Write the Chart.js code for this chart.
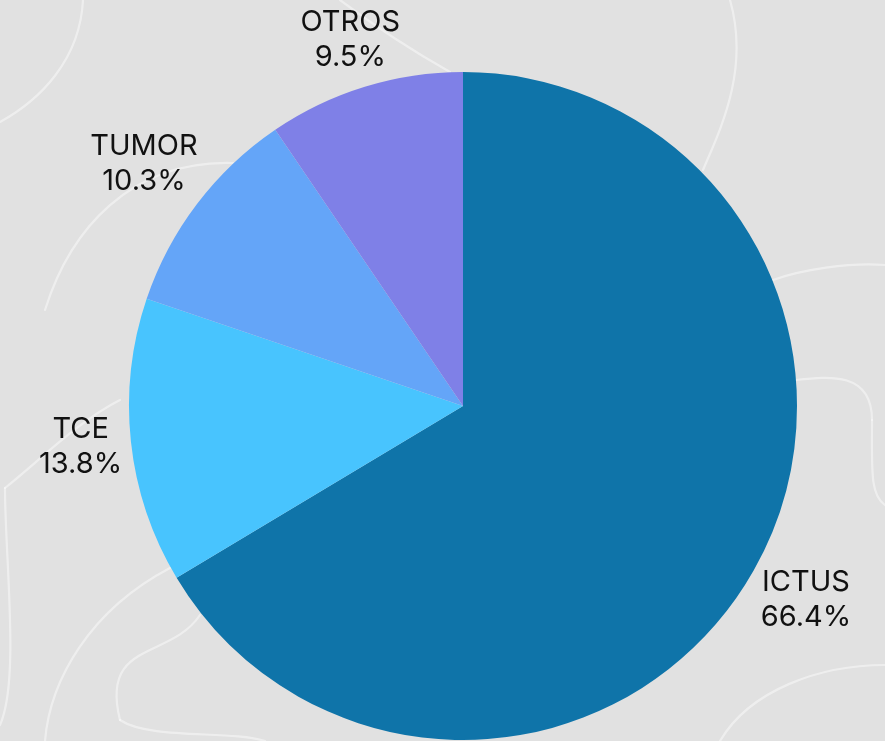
<!DOCTYPE html>
<html>
<head>
<meta charset="utf-8">
<script src="https://cdn.jsdelivr.net/npm/chart.js@4"></script>
<style>
  html, body { margin: 0; padding: 0; background: #e1e1e1; }
  #wrap { width: 885px; height: 741px; position: relative; }
</style>
</head>
<body>
<div id="wrap"><canvas id="pieChart"></canvas></div>
<script>
const categories = ["ICTUS", "TCE", "TUMOR", "OTROS"];
const percentages = [66.4, 13.8, 10.3, 9.5];
const sliceColors = ["#0f74a9", "#48c4fe", "#64a5f8", "#7f80e7"];

// faint white doodle lines behind the pie
const backdrop = {
  id: "backdrop",
  beforeDraw(chart) {
    const c = chart.ctx;
    c.save();
    c.fillStyle = "#e1e1e1";
    c.fillRect(0, 0, chart.width, chart.height);
    c.strokeStyle = "rgba(255,255,255,0.45)";
    c.lineWidth = 2.2;
    c.lineCap = "round";
    const paths = [
      [[83, 0], [80, 60], [40, 100], [0, 122]],
      [[233, 163], [130, 160], [70, 230], [45, 310]],
      [[120, 400], [80, 420], [40, 460], [5, 488]],
      [[5, 488], [5, 560], [20, 680], [0, 725]],
      [[170, 568], [90, 610], [50, 680], [45, 741]],
      [[200, 615], [170, 660], [100, 640], [120, 720]],
      [[120, 720], [150, 740], [230, 730], [265, 741]],
      [[340, 0], [380, 30], [420, 55], [450, 72]],
      [[730, 0], [750, 70], [720, 130], [703, 170]],
      [[773, 280], [800, 270], [850, 262], [885, 265]],
      [[796, 380], [830, 376], [872, 372], [872, 420]],
      [[872, 420], [872, 470], [870, 495], [885, 505]],
      [[720, 741], [750, 690], [820, 665], [885, 665]],
    ];
    paths.forEach(p => {
      c.beginPath();
      c.moveTo(p[0][0], p[0][1]);
      c.bezierCurveTo(p[1][0], p[1][1], p[2][0], p[2][1], p[3][0], p[3][1]);
      c.stroke();
    });
    c.restore();
  }
};

// category name + percentage outside each slice
const outsideLabels = {
  id: "outsideLabels",
  afterDatasetsDraw(chart) {
    const c = chart.ctx;
    const arcs = chart.getDatasetMeta(0).data;
    const lineGap = 35;
    c.save();
    c.fillStyle = "#111111";
    c.font = "29px Inter";
    c.textAlign = "center";
    c.textBaseline = "middle";
    arcs.forEach((arc, i) => {
      const name = categories[i];
      const pct = percentages[i].toFixed(1) + "%";
      const hw = Math.max(c.measureText(name).width, c.measureText(pct).width) / 2;
      const hh = 30;
      const mid = (arc.startAngle + arc.endAngle) / 2;
      const dx = Math.cos(mid), dy = Math.sin(mid);
      const dist = arc.outerRadius + 6 + Math.abs(dx) * hw + Math.abs(dy) * hh;
      const x = arc.x + dx * dist;
      const y = arc.y + dy * dist;
      c.fillText(name, x, y - lineGap / 2);
      c.fillText(pct, x, y + lineGap / 2);
    });
    c.restore();
  }
};

new Chart(document.getElementById("pieChart"), {
  type: "pie",
  data: {
    labels: categories,
    datasets: [{
      data: percentages,
      backgroundColor: sliceColors,
      borderWidth: 0
    }]
  },
  options: {
    responsive: true,
    maintainAspectRatio: false,
    animation: false,
    layout: { padding: { top: 72, bottom: 1, left: 41, right: 0 } },
    plugins: {
      legend: { display: false },
      tooltip: { enabled: false }
    }
  },
  plugins: [backdrop, outsideLabels]
});
</script>
</body>
</html>
